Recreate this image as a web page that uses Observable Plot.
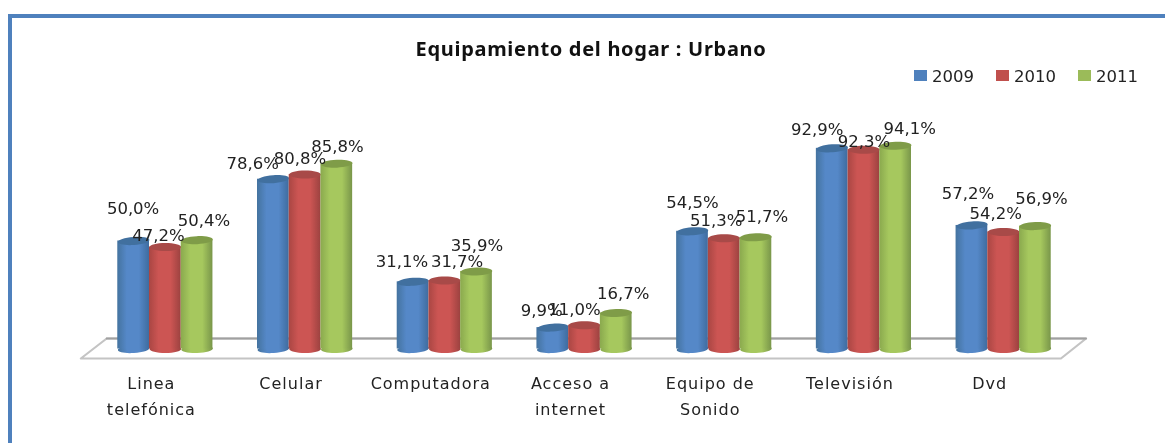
<!DOCTYPE html>
<html lang="es">
<head>
<meta charset="utf-8">
<script src="https://cdn.jsdelivr.net/npm/d3@7"></script>
<script src="https://cdn.jsdelivr.net/npm/@observablehq/plot@0.6"></script>
<style>
  html, body { margin: 0; padding: 0; background: #fff; overflow: hidden; }
  #page { position: relative; width: 1165px; height: 443px; font-family: "DejaVu Sans", sans-serif; color: #222; filter: blur(0.4px); }
  #frame { position: absolute; left: 8px; top: 14px; right: 0; bottom: 0; border-top: 4px solid #4f81bd; border-left: 4px solid #4f81bd; box-sizing: border-box; }
  #title { position: absolute; left: 391px; top: 35px; width: 400px; text-align: center; font: bold 20px "Noto Sans", sans-serif; letter-spacing: 0.7px; white-space: nowrap; color: #111; }
  #legend { position: absolute; left: 0; top: 0; }
  .swatch { position: absolute; top: 70px; width: 13px; height: 11px; }
  .key { position: absolute; top: 67px; font-size: 16.5px; line-height: 20px; }
  #chart { position: absolute; left: 0; top: 0; }
  #chart svg { display: block; }
  g[aria-label="x-axis tick label"] text { letter-spacing: 1px; }
</style>
</head>
<body>
<div id="page">
  <div id="frame"></div>
  <div id="chart"></div>
  <div id="title"></div>
  <div id="legend"></div>
</div>
<script>
const chartTitle = "Equipamiento del hogar : Urbano";
const categories = ["Linea\ntelefónica", "Celular", "Computadora", "Acceso a\ninternet", "Equipo de\nSonido", "Televisión", "Dvd"];
const years = ["2009", "2010", "2011"];
const values2009 = [50.0, 78.6, 31.1, 9.9, 54.5, 92.9, 57.2];
const values2010 = [47.2, 80.8, 31.7, 11.0, 51.3, 92.3, 54.2];
const values2011 = [50.4, 85.8, 35.9, 16.7, 51.7, 94.1, 56.9];
const seriesValues = [values2009, values2010, values2011];

// styling
const sideLeft = ["#44739f", "#a94643", "#8aa94e"];
const sideMid = ["#5588c8", "#cc5553", "#a6c85e"];
const sideRight = ["#3f6c9f", "#9c4240", "#79964a"];
const capColor = ["#41709f", "#a84a48", "#7f9c48"];
const legendColor = ["#4f81bd", "#c0504d", "#9bbb59"];
const tilt = [-4, 0, -2];

// chart-space placement (category units across, percent up)
const columnWidth = 0.227;
const floorAcross = [0.08, 7.09, 6.91, -0.105, 0.08];
const floorUp = [4.86, 4.86, -4.4, -4.4, 4.86];

// how far each value label sits from the top of its column, as the original chart placed them
const labelShiftAcross = [
  [-0.004, -0.147, -0.079, -0.079, 0, -0.107, -0.029],
  [-0.05, -0.036, 0.088, -0.072, -0.057, 0, -0.057],
  [0.05, 0.004, 0.004, 0.05, 0.043, 0.1, 0.043]
];
const labelShiftUp = [
  [14.8, 7.4, 9.2, 7.9, 13.4, 8.8, 14.8],
  [5.1, 7.4, 8.8, 7.4, 8.3, 3.7, 8.3],
  [9.2, 7.9, 11.8, 8.8, 9.7, 7.9, 12.9]
];

function rowsFor(j) {
  return seriesValues[j].map((v, i) => ({
    category: categories[i],
    year: years[j],
    value: v,
    left: i + 0.5 + (j - 1.5) * columnWidth,
    right: i + 0.5 + (j - 0.5) * columnWidth,
    mid: i + 0.5 + (j - 1) * columnWidth,
    labelX: i + 0.5 + (j - 1) * columnWidth + labelShiftAcross[j][i],
    labelY: v + labelShiftUp[j][i],
    label: v.toFixed(1).replace(".", ",") + "%"
  }));
}

const ellipse = {
  draw(ctx) {
    const rx = 15.8, ry = 4, k = 0.5523;
    ctx.moveTo(-rx, 0);
    ctx.bezierCurveTo(-rx, -ry * k, -rx * k, -ry, 0, -ry);
    ctx.bezierCurveTo(rx * k, -ry, rx, -ry * k, rx, 0);
    ctx.bezierCurveTo(rx, ry * k, rx * k, ry, 0, ry);
    ctx.bezierCurveTo(-rx * k, ry, -rx, ry * k, -rx, 0);
    ctx.closePath();
  }
};

function gradients() {
  const defs = d3.create("svg:defs");
  years.forEach((y, j) => {
    const g = defs.append("linearGradient").attr("id", "side" + y);
    [[0, sideLeft[j]], [0.3, sideMid[j]], [0.68, sideMid[j]], [1, sideRight[j]]].forEach(([o, c]) =>
      g.append("stop").attr("offset", o).attr("stop-color", c));
  });
  return defs.node();
}

const columnMarks = years.flatMap((y, j) => {
  const rows = rowsFor(j);
  return [
    Plot.dot(rows.map(d => ({...d, base: 0})), {x: "mid", y: "base", symbol: ellipse, fill: `url(#side${y})`, stroke: "none", rotate: tilt[j]}),
    Plot.rectY(rows, {x1: "left", x2: "right", y1: 0, y2: "value", fill: `url(#side${y})`, inset: 0}),
    Plot.dot(rows, {x: "mid", y: "value", symbol: ellipse, fill: capColor[j], stroke: "none", rotate: tilt[j]})
  ];
});

const labelMarks = years.map((y, j) =>
  Plot.text(rowsFor(j), {x: "labelX", y: "labelY", text: "label", fontSize: 16.5, fill: "#222", textAnchor: "middle", lineAnchor: "middle"})
);

const floorRows = floorAcross.map((x, i) => ({x, y: floorUp[i]}));
const floorBackRows = floorRows.slice(0, 2);

const plot = Plot.plot({
  width: 1165,
  height: 443,
  marginLeft: 95,
  marginRight: 92,
  marginTop: 132.5,
  marginBottom: 94.5,
  style: {background: "transparent", fontFamily: "'DejaVu Sans', sans-serif", color: "#222"},
  x: {type: "linear", domain: [0, categories.length], axis: null},
  y: {domain: [0, 100], axis: null},
  marks: [
    gradients,
    Plot.line(floorRows, {x: "x", y: "y", stroke: "#c4c4c4", strokeWidth: 2.2, fill: "#fff", curve: "linear"}),
    Plot.line(floorBackRows, {x: "x", y: "y", stroke: "#a0a0a0", strokeWidth: 1.8, curve: "linear"}),
    ...columnMarks,
    ...labelMarks,
    Plot.axisX({
      ticks: categories.map((c, i) => i + 0.5),
      tickFormat: (d) => categories[Math.floor(d)],
      tickSize: 0,
      tickPadding: 21,
      anchor: "bottom",
      label: null,
      fontSize: 16,
      lineHeight: 1.63,
      dx: -14,
      fill: "#222"
    })
  ]
});
document.getElementById("chart").append(plot);

document.getElementById("title").textContent = chartTitle;
const legend = document.getElementById("legend");
const swatchLeft = [914, 996, 1078];
const keyLeft = [932, 1014, 1096];
years.forEach((y, j) => {
  const s = document.createElement("div");
  s.className = "swatch"; s.style.left = swatchLeft[j] + "px"; s.style.background = legendColor[j];
  const k = document.createElement("div");
  k.className = "key"; k.style.left = keyLeft[j] + "px"; k.textContent = y;
  legend.append(s, k);
});
</script>
</body>
</html>
